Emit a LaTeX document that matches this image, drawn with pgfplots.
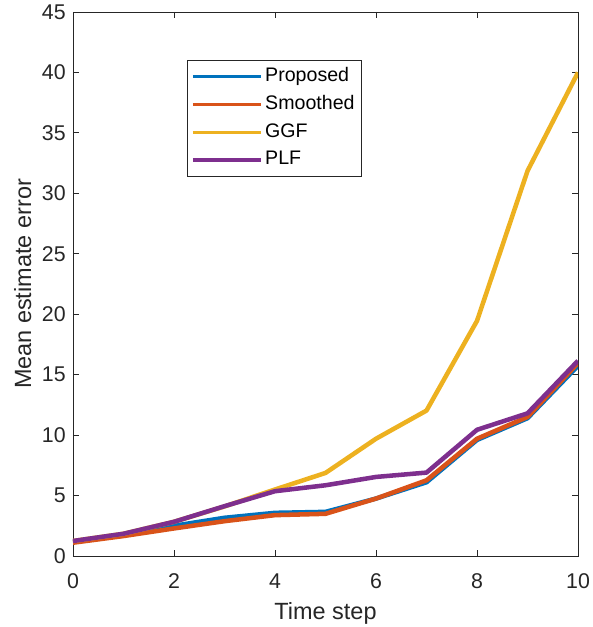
\documentclass[border=0pt]{standalone}
\usepackage{pgfplots}
\pgfplotsset{compat=1.18}
\usepackage{fontspec}
\setmainfont{Liberation Sans}
\definecolor{mblue}{rgb}{0,0.447,0.741}
\definecolor{mred}{rgb}{0.85,0.325,0.098}
\definecolor{myel}{rgb}{0.929,0.694,0.125}
\definecolor{mpur}{rgb}{0.494,0.184,0.556}
\definecolor{axgray}{rgb}{0.15,0.15,0.15}
\begin{document}
\begin{tikzpicture}
\begin{axis}[
  scale only axis, width=378.75pt, height=408pt,
  xmin=0, xmax=10, ymin=0, ymax=45,
  xtick={0,2,...,10}, ytick={0,5,...,45},
  tick align=inside, tick style={axgray, line width=0.6pt},
  major tick length=4.5pt,
  axis line style={axgray, line width=0.6pt},
  /pgf/number format/assume math mode=true,
  tick label style={font=\fontsize{16}{18}\selectfont, text=axgray},
  xticklabel style={yshift=-10pt},
  yticklabel style={xshift=-2pt},
  xlabel={Time step}, ylabel={Mean estimate error},
  label style={font=\fontsize{17.6}{20}\selectfont, text=axgray},
  xlabel style={yshift=-3pt},
  ylabel style={yshift=1pt},
  legend style={at={(0.2257,0.9118)}, anchor=north west, draw=axgray, line width=0.6pt,
    font=\fontsize{14.7}{17}\selectfont, row sep=2.3pt, inner xsep=3pt, inner ysep=3pt,
    nodes={text height=11pt, text depth=3.5pt, inner ysep=2pt}},
  legend cell align=left,
  legend image code/.code={\draw[#1, line width=2.4pt] (0pt,0pt) -- (51pt,0pt);},
  every axis plot/.append style={line width=3.4pt, line join=round},
]
\addplot[mblue] coordinates {(0,1.2) (1,1.7) (2,2.5) (3,3.16) (4,3.57) (5,3.65) (6,4.75) (7,6.1) (8,9.6) (9,11.4) (10,15.74)};
\addlegendentry{Proposed}
\addplot[mred] coordinates {(0,1.1) (1,1.65) (2,2.28) (3,2.88) (4,3.38) (5,3.49) (6,4.75) (7,6.26) (8,9.7) (9,11.5) (10,15.96)};
\addlegendentry{Smoothed}
\addplot[myel] coordinates {(0,1.24) (1,1.84) (2,2.83) (3,4.1) (4,5.5) (5,6.87) (6,9.7) (7,12.03) (8,19.45) (9,31.85) (10,40.0)};
\addlegendentry{GGF}
\addplot[mpur] coordinates {(0,1.24) (1,1.84) (2,2.83) (3,4.12) (4,5.36) (5,5.85) (6,6.54) (7,6.9) (8,10.44) (9,11.8) (10,16.15)};
\addlegendentry{PLF}
\end{axis}
\pgfresetboundingbox
\path ([shift={(-54.75pt,-53.25pt)}]current axis.south west) rectangle ([shift={(10.5pt,9pt)}]current axis.north east);
\end{tikzpicture}
\end{document}
